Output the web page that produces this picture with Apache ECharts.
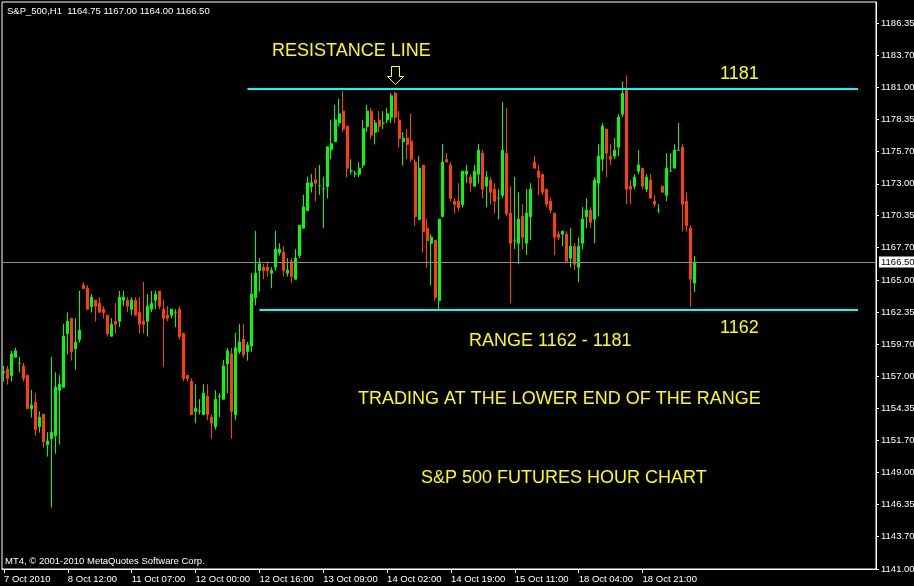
<!DOCTYPE html>
<html><head><meta charset="utf-8">
<script src="https://cdn.jsdelivr.net/npm/echarts@6/dist/echarts.min.js"></script>
<style>html,body{margin:0;padding:0;background:#000}#c{width:914px;height:586px}</style>
</head><body><div id="c"></div>
<script>
// ---- data (S&P 500 futures, H1) ----
const opens = [1157.29,1157.59,1157.07,1158.59,1158.09,1157.87,1157.09,1154.32,1154.85,1152.83,
1153.85,1151.33,1151.83,1152.08,1155.85,1156.10,1160.56,1161.83,1159.31,1160.06,
1164.57,1164.32,1162.80,1163.33,1163.08,1162.58,1162.08,1160.34,1161.58,1161.58,
1163.33,1163.33,1162.58,1163.33,1162.33,1161.58,1161.58,1162.58,1163.33,1164.07,
1162.58,1162.08,1162.08,1162.33,1162.58,1160.58,1157.09,1156.60,1154.10,1154.10,
1153.83,1155.35,1153.60,1152.83,1155.35,1155.10,1158.06,1158.87,1153.83,1159.06,
1160.11,1159.06,1159.53,1163.55,1165.79,1166.07,1166.07,1165.57,1166.07,1167.29,
1167.32,1165.57,1166.54,1165.07,1167.04,1169.31,1170.78,1172.77,1173.33,1172.83,
1172.58,1172.77,1175.82,1176.51,1178.04,1179.03,1177.79,1174.07,1173.83,1173.80,
1174.55,1177.76,1179.03,1177.29,1178.29,1178.04,1178.29,1178.53,1180.53,1178.29,
1176.51,1176.79,1176.54,1174.80,1170.03,1174.55,1169.31,1168.06,1168.31,1163.30,
1170.28,1175.04,1174.55,1171.55,1171.55,1171.28,1173.80,1173.55,1172.80,1173.80,
1175.54,1172.80,1173.30,1172.55,1171.80,1172.05,1175.54,1170.56,1168.31,1168.06,
1170.31,1168.06,1170.28,1174.80,1174.05,1173.80,1172.55,1171.55,1170.56,1168.81,
1168.81,1168.81,1166.82,1167.81,1166.07,1168.06,1170.28,1170.81,1170.06,1173.05,
1175.04,1177.54,1175.29,1175.29,1176.04,1178.78,1180.78,1172.80,1172.80,1174.05,
1174.30,1172.55,1173.30,1171.55,1170.81,1172.80,1172.05,1174.05,1174.30,1175.79,
1176.04,1171.55,1169.31,1164.75];
const highs = [1157.87,1157.87,1159.12,1159.37,1158.62,1158.12,1157.09,1155.88,1155.60,1154.10,
1153.85,1152.36,1158.62,1157.34,1157.12,1161.36,1162.33,1161.83,1161.83,1164.10,
1164.85,1164.57,1163.85,1163.33,1163.58,1162.83,1162.08,1161.83,1163.08,1164.10,
1164.10,1163.58,1163.58,1163.58,1163.58,1164.85,1163.83,1164.10,1164.10,1164.07,
1163.33,1162.83,1162.58,1162.58,1162.83,1160.58,1157.09,1156.84,1156.35,1155.10,
1156.35,1156.35,1153.85,1155.85,1155.60,1158.37,1159.37,1159.37,1160.61,1161.36,
1161.36,1159.86,1165.57,1169.09,1166.82,1166.35,1166.54,1166.07,1169.09,1168.06,
1167.81,1166.82,1166.82,1167.57,1169.56,1172.08,1173.58,1173.83,1174.32,1174.57,
1173.58,1176.07,1178.31,1179.56,1180.06,1180.72,1177.79,1175.04,1174.07,1174.80,
1178.31,1179.56,1179.28,1178.31,1179.03,1179.03,1179.28,1180.53,1180.60,1179.03,
1177.29,1177.54,1178.81,1175.04,1175.29,1174.55,1170.06,1168.81,1168.31,1170.06,
1176.32,1175.54,1174.80,1171.80,1173.05,1174.05,1174.55,1173.80,1174.55,1176.32,
1175.79,1174.05,1173.55,1173.05,1172.55,1179.78,1179.28,1172.80,1173.55,1172.30,
1171.30,1172.55,1173.05,1175.29,1174.55,1173.80,1172.55,1171.80,1170.56,1169.06,
1169.06,1169.06,1169.31,1168.06,1168.56,1171.06,1171.80,1171.06,1173.55,1176.29,
1178.04,1177.54,1176.29,1176.79,1178.78,1181.50,1182.00,1173.30,1173.80,1175.79,
1174.30,1173.80,1173.80,1172.05,1171.30,1172.80,1175.54,1175.54,1176.29,1178.04,
1176.29,1172.30,1169.56,1167.00];
const lows = [1156.57,1156.32,1156.57,1158.59,1157.34,1156.57,1154.32,1153.58,1152.08,1152.33,
1151.08,1150.34,1146.10,1150.58,1151.33,1156.10,1158.81,1158.31,1157.57,1159.81,
1164.30,1162.58,1162.30,1161.55,1162.33,1161.80,1160.31,1160.31,1160.56,1161.08,
1162.83,1162.33,1162.08,1162.08,1160.56,1160.56,1160.31,1162.33,1162.58,1162.58,
1157.81,1161.58,1161.83,1161.08,1160.06,1156.60,1156.60,1153.83,1153.11,1153.83,
1153.83,1153.35,1151.83,1152.58,1153.60,1155.10,1155.60,1151.83,1153.35,1158.87,
1158.56,1158.31,1159.03,1162.90,1164.05,1165.07,1165.29,1164.32,1165.79,1167.04,
1165.29,1165.29,1164.80,1165.07,1166.82,1169.31,1170.78,1172.27,1171.53,1172.08,
1169.31,1171.78,1175.04,1176.51,1177.76,1177.29,1173.52,1173.80,1173.55,1173.55,
1174.30,1177.29,1176.76,1176.26,1177.29,1177.54,1178.04,1178.04,1178.04,1176.01,
1174.52,1175.04,1174.80,1169.53,1170.03,1167.29,1166.04,1164.55,1163.30,1162.61,
1170.28,1174.80,1171.53,1170.53,1170.78,1171.03,1173.05,1172.30,1172.80,1173.05,
1171.80,1171.06,1171.30,1170.53,1170.03,1171.80,1170.28,1163.05,1167.57,1166.32,
1167.57,1167.07,1168.31,1174.30,1172.05,1172.05,1171.06,1170.56,1167.07,1168.31,
1167.81,1166.57,1166.07,1165.82,1164.82,1167.57,1169.31,1169.31,1168.06,1170.28,
1174.05,1173.55,1174.55,1175.04,1175.29,1178.53,1171.30,1171.30,1172.55,1173.80,
1172.55,1172.30,1171.80,1171.06,1170.56,1172.30,1171.55,1174.05,1174.30,1175.79,
1169.03,1169.03,1162.80,1164.00];
const closes = [1157.40,1156.82,1158.87,1159.12,1158.09,1156.82,1154.32,1154.60,1152.58,1153.60,
1151.58,1151.64,1152.36,1156.10,1156.35,1160.34,1161.58,1159.06,1159.84,1160.83,
1164.30,1162.58,1163.58,1162.83,1162.33,1162.30,1160.56,1161.33,1161.33,1163.58,
1163.58,1162.83,1163.33,1162.08,1161.33,1161.33,1162.83,1163.08,1163.83,1162.83,
1161.83,1161.83,1162.58,1162.33,1160.31,1156.82,1156.82,1153.83,1154.35,1154.10,
1155.60,1153.83,1153.11,1155.10,1155.35,1157.87,1159.12,1154.10,1159.37,1159.86,
1158.81,1159.61,1163.83,1165.57,1166.35,1165.79,1165.79,1165.82,1167.57,1167.57,
1165.79,1165.82,1165.29,1166.82,1169.56,1171.08,1173.08,1173.08,1173.05,1172.83,
1172.58,1176.07,1176.32,1178.31,1178.81,1177.54,1174.30,1174.07,1173.83,1174.30,
1177.57,1179.03,1177.04,1178.04,1177.79,1178.04,1178.81,1180.31,1178.53,1176.76,
1176.79,1176.26,1175.04,1170.28,1174.30,1169.03,1168.29,1168.56,1163.55,1170.06,
1174.80,1174.80,1171.78,1171.28,1171.03,1174.05,1174.05,1173.05,1174.05,1175.79,
1172.55,1173.55,1172.30,1171.55,1171.80,1175.79,1170.53,1168.06,1168.31,1170.06,
1168.56,1170.56,1172.55,1174.30,1173.55,1172.30,1171.30,1170.81,1168.56,1168.56,
1169.06,1166.57,1167.81,1166.32,1167.81,1170.06,1170.81,1169.81,1173.30,1175.29,
1177.79,1175.54,1175.04,1175.79,1178.53,1180.53,1172.55,1172.55,1173.55,1174.55,
1172.80,1173.55,1171.80,1171.30,1170.81,1172.30,1174.30,1174.05,1175.79,1175.79,
1171.30,1169.53,1165.07,1166.50];
const tickLabels = ['7 Oct 2010','8 Oct 12:00','11 Oct 07:00','12 Oct 00:00','12 Oct 16:00','13 Oct 09:00',
  '14 Oct 02:00','14 Oct 19:00','15 Oct 11:00','18 Oct 04:00','18 Oct 21:00'];
const yTickLabels = ['1141.00','1143.70','1146.35','1149.00','1151.70','1154.35','1157.00','1159.70','1162.35',
  '1165.00','1167.70','1170.35','1173.00','1175.70','1178.35','1181.00','1183.70','1186.35'];
const lastPrice = 1166.50;
const resistanceLevel = 1180.87;
const supportLevel = 1162.52;
const header = 'S&P_500,H1  1164.75 1167.00 1164.00 1166.50';

// ---- chart ----
const SLOTS = 219, EVERY = 16;
const BULL = '#00ff00', BEAR = '#ff4000';
const categories = Array.from({length: SLOTS}, (_, i) => String(i));
const candles = opens.map((o, i) => {
  const item = {value: [o, closes[i], lows[i], highs[i]]};
  if (o === closes[i]) item.itemStyle = {color: BULL, color0: BULL, borderColor: BULL, borderColor0: BULL};
  return item;
});
const yTicks = yTickLabels.map(Number);
const smallFont = '"Liberation Sans", Arial, sans-serif';
const annFont = '18px "Liberation Sans", Arial, sans-serif';
const showTick = (idx) => idx % EVERY === 0 && (idx / EVERY) < tickLabels.length;
function annText(text, x, y) {
  return {type: 'text', x: x, y: y, z: 100, silent: true,
    style: {text: text, fill: '#ffff00', font: annFont, verticalAlign: 'middle', textVerticalAlign: 'middle'}};
}

const chart = echarts.init(document.getElementById('c'), null, {renderer: 'canvas'});
chart.setOption({
  animation: false,
  backgroundColor: '#000',
  grid: {left: 2, right: 38, top: 2, bottom: 17, containLabel: false, outerBoundsMode: 'none',
    show: true, borderColor: '#ffffff', borderWidth: 1, backgroundColor: '#000'},
  xAxis: {
    type: 'category', data: categories, boundaryGap: true,
    axisLine: {show: true, lineStyle: {color: '#ffffff', width: 1}},
    axisTick: {show: true, interval: showTick, alignWithLabel: true, length: 4, lineStyle: {color: '#ffffff'}},
    axisLabel: {show: true, interval: showTick, align: 'left', margin: 5, color: '#ffffff',
      fontFamily: smallFont, fontSize: 9.5, hideOverlap: false,
      formatter: (v, idx) => tickLabels[Math.round(idx / EVERY)] || ''},
    splitLine: {show: false}
  },
  yAxis: {
    type: 'value', position: 'right', min: 1141, max: 1188.1, scale: true,
    axisLine: {show: true, lineStyle: {color: '#ffffff', width: 1}},
    axisTick: {show: true, length: 3, lineStyle: {color: '#ffffff'}, customValues: yTicks},
    axisLabel: {show: true, color: '#ffffff', margin: 5, fontFamily: smallFont, fontSize: 9.5,
      customValues: yTicks, formatter: (v) => v.toFixed(2)},
    splitLine: {show: false}
  },
  series: [{
    type: 'candlestick',
    data: candles,
    barWidth: 2.5,
    itemStyle: {color: BULL, color0: BEAR, borderColor: BULL, borderColor0: BEAR, borderWidth: 1},
    markLine: {
      silent: true, symbol: 'none', animation: false,
      data: [
        {yAxis: lastPrice, lineStyle: {color: '#8c8c8c', width: 1, type: 'solid'},
          label: {show: true, position: 'end', distance: 3, formatter: () => lastPrice.toFixed(2),
            color: '#000', backgroundColor: '#fff', padding: [1, 1, 0, 2], fontFamily: smallFont, fontSize: 9.5}},
        [{coord: [61, resistanceLevel], lineStyle: {color: '#00ffff', width: 2, type: 'solid'}, label: {show: false}},
         {coord: [214, resistanceLevel]}],
        [{coord: [64, supportLevel], lineStyle: {color: '#00ffff', width: 2, type: 'solid'}, label: {show: false}},
         {coord: [214, supportLevel]}]
      ]
    }
  }],
  graphic: [
    {type: 'text', x: 7, y: 11, silent: true,
      style: {text: header, fill: '#ffffff', font: '9.5px ' + smallFont, verticalAlign: 'middle', textVerticalAlign: 'middle'}},
    {type: 'text', x: 5, y: 561, silent: true,
      style: {text: 'MT4, \u00a9 2001-2010 MetaQuotes Software Corp.', fill: '#ffffff', font: '9.5px ' + smallFont,
        verticalAlign: 'middle', textVerticalAlign: 'middle'}},
    annText('RESISTANCE LINE', 272, 51),
    annText('1181', 720, 74),
    annText('1162', 720, 328),
    annText('RANGE 1162 - 1181', 469, 341),
    annText('TRADING AT THE LOWER END OF THE RANGE', 358, 399),
    annText('S&P 500 FUTURES HOUR CHART', 421, 478),
    {type: 'polygon', z: 100, silent: true,
      shape: {points: [[391.5, 66.5], [399.5, 66.5], [399.5, 76.5], [403.5, 76.5], [395.5, 84.5], [387.5, 76.5], [391.5, 76.5]]},
      style: {fill: 'none', stroke: '#ffff00', lineWidth: 1}}
  ]
});
</script>
</body></html>
